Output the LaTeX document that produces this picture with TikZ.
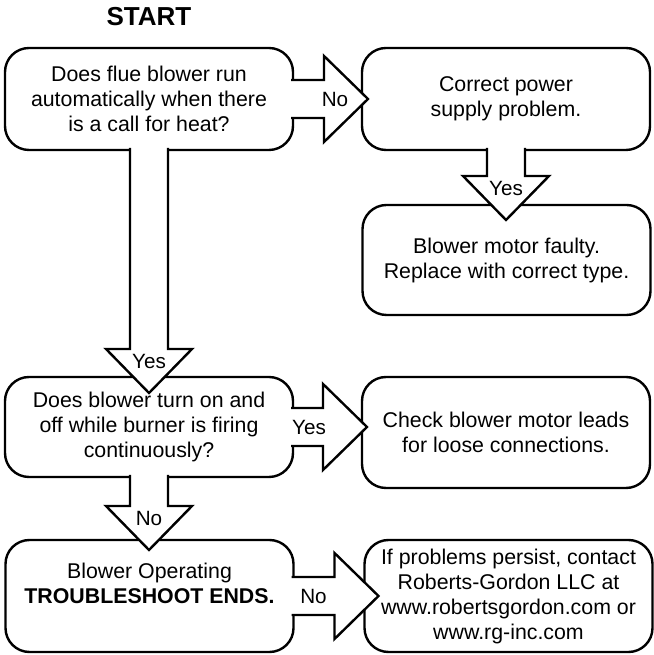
\documentclass[tikz,border=0pt]{standalone}
\usepackage{fontspec}
\setmainfont{Liberation Sans}
\usetikzlibrary{calc}

\tikzset{
  box/.style={draw, line width=1.8pt, rounded corners=18pt, align=center,
    minimum width=216pt, inner sep=0pt, outer sep=0pt,
    font=\fontsize{16}{18.75}\selectfont},
  blockarrow/.style={draw, fill=white, line width=1.8pt, line join=miter},
  lbl/.style={inner sep=0pt, text height=11.2pt, text depth=0pt,
    font=\fontsize{15.5}{18}\selectfont}
}

% fat arrow to the right: from, to, overshoot, label, label back from tip
\newcommand{\rightblock}[5]{%
  \coordinate (tip) at ($(#2.west |- #1.east)+(#3,0)$);
  \draw[blockarrow] ($(#1.east)+(-2,19)$) -- ($(tip)+(-44,19)$) -- ($(tip)+(-44,43)$) -- (tip)
    -- ($(tip)+(-44,-43)$) -- ($(tip)+(-44,-19)$) -- ($(#1.east)+(-2,-19)$);
  \node[lbl] at ($(tip)+(-#5,0)$) {#4};
}
% fat arrow downwards: from, to, overshoot, label
\newcommand{\downblock}[4]{%
  \coordinate (tip) at ($(#2.north -| #1.south)+(0,-#3)$);
  \draw[blockarrow] ($(#1.south)+(-19,2)$) -- ($(tip)+(-19,44)$) -- ($(tip)+(-43,44)$) -- (tip)
    -- ($(tip)+(43,44)$) -- ($(tip)+(19,44)$) -- ($(#1.south)+(19,2)$);
  \node[lbl] at ($(tip)+(0,32)$) {#4};
}

\begin{document}
\begin{tikzpicture}[x=0.75pt,y=0.75pt]
	\useasboundingbox (0,0) rectangle (653,655);
	
	\node[inner sep=0pt, font=\fontsize{19.5}{22}\selectfont\bfseries] (start) at (149,638) {START};
	
	% left column
	\node[box, minimum height=76.5pt] (flue) at (149,556)
		{Does flue blower run\\automatically when there\\is a call for heat?};
	\node[box, minimum height=75pt] (cycling) at (149,228)
		{Does blower turn on and\\off while burner is firing\\continuously?};
	\node[box, minimum height=84pt, text depth=19.5pt] (operating) at (149.5,59)
		{Blower Operating\\\textbf{TROUBLESHOOT ENDS.}};
	
	% right column
	\node[box, minimum height=76.5pt] (power) at (506,556)
		{Correct power\\supply problem.};
	\node[box, minimum height=82.5pt] (motor) at (506.5,395)
		{Blower motor faulty.\\Replace with correct type.};
	\node[box, minimum height=83.25pt] (leads) at (506,222.5)
		{Check blower motor leads\\for loose connections.};
	\node[box, minimum height=84pt] (contact) at (508.5,59)
		{If problems persist, contact\\Roberts-Gordon LLC at\\www.robertsgordon.com or\\www.rg-inc.com};
	
	\rightblock{flue}{power}{6}{No}{33}
	\downblock{power}{motor}{15}{Yes}
	\downblock{flue}{cycling}{16}{Yes}
	\rightblock{cycling}{leads}{5}{Yes}{58}
	\downblock{cycling}{operating}{10}{No}
	\rightblock{operating}{contact}{14}{No}{65}
\end{tikzpicture}
\end{document}
